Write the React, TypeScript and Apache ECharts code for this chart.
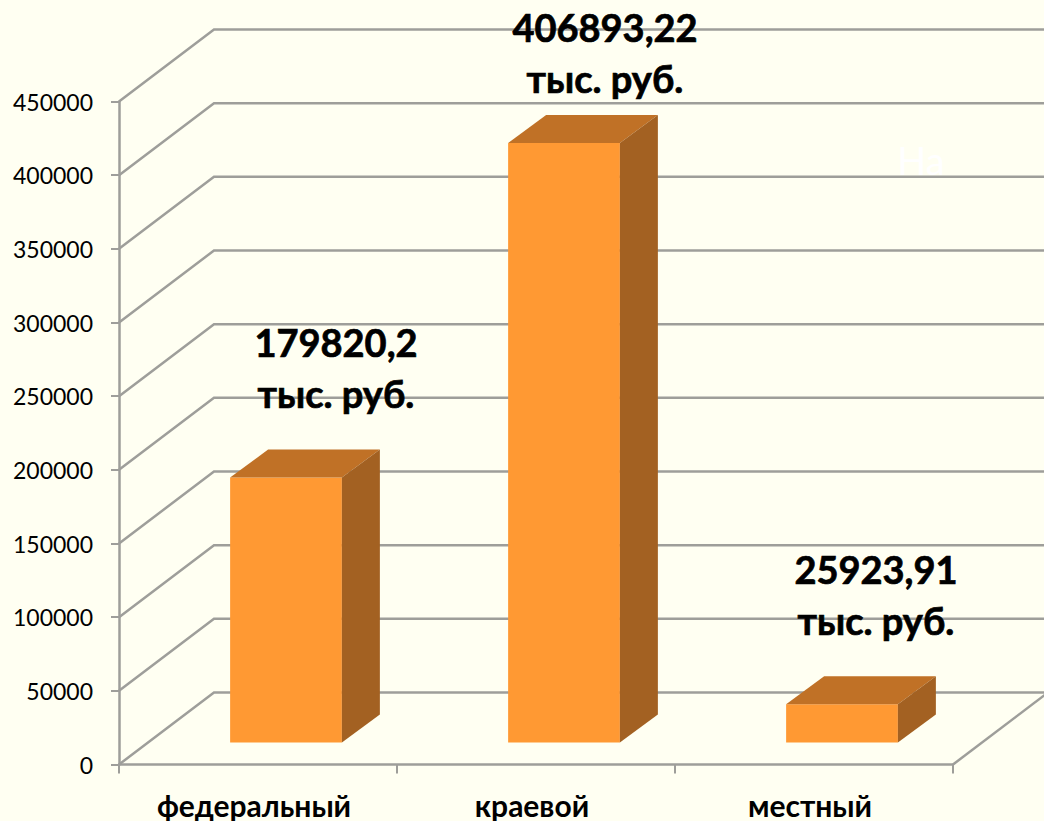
import React, { useEffect, useRef } from "react";
import * as echarts from "echarts";

const categories = ["федеральный", "краевой", "местный"];
const values = [179820.2, 406893.22, 25923.91];
const labelLines = ["179820,2\nтыс. руб.", "406893,22\nтыс. руб.", "25923,91\nтыс. руб."];
const gridValues = [0, 50000, 100000, 150000, 200000, 250000, 300000, 350000, 400000, 450000];

const FONT = "Lato, 'Open Sans', sans-serif";
const LINE = "#9e9e9a";
const BG = "#fffff2";
const DX = 95, DY = 72;
const BDX = 38, BDY = 28;
const labelNudge = [[78, -132], [69, -113], [62, -132]];

export default function App() {
  const ref = useRef<HTMLDivElement>(null);
  useEffect(() => {
    const chart = echarts.init(ref.current!, undefined, { renderer: "svg" });
    chart.setOption({
      animation: false,
      backgroundColor: BG,
      grid: { left: 119, top: 101.5, width: 834, height: 663, containLabel: false },
      xAxis: {
        type: "category",
        data: categories,
        axisLine: { lineStyle: { color: LINE, width: 2.5 } },
        axisTick: { show: true, length: 9, lineStyle: { color: LINE, width: 2 } },
        axisLabel: { color: "#000", fontFamily: FONT, fontWeight: "bold", fontSize: 30, margin: 25, padding: [0, 8, 0, 0] },
      },
      yAxis: {
        type: "value",
        min: 0,
        max: 450000,
        interval: 50000,
        splitLine: { show: false },
        axisLine: { show: true, lineStyle: { color: LINE, width: 2.5 } },
        axisTick: { show: true, length: 8, lineStyle: { color: LINE, width: 2 } },
        axisLabel: { color: "#000", fontFamily: FONT, fontSize: 23, margin: 26, formatter: (v: number) => String(v) },
      },
      graphic: [
        { type: "text", x: 921, y: 160, style: { text: "На", fill: "#ffffff", font: `38px ${FONT}`, align: "center", verticalAlign: "middle" }, z: 1 },
      ],
      series: [
        {
          type: "custom",
          z: 1,
          silent: true,
          data: gridValues.map((v) => [0, v]),
          renderItem: (params: any, api: any) => {
            const v = api.value(1);
            const y = api.coord([0, v])[1];
            const left = params.coordSys.x;
            const right = left + params.coordSys.width;
            const shape = { points: [[left, y], [left + DX, y - DY], [right + DX, y - DY]] };
            const style = { stroke: LINE, lineWidth: 2.5, fill: "none" };
            const children: any[] = [{ type: "polyline", shape, style }];
            if (v === 0) {
              children.push({ type: "line", shape: { x1: right, y1: y, x2: right + DX, y2: y - DY }, style });
            }
            return { type: "group", children };
          },
        },
        {
          type: "custom",
          z: 2,
          silent: true,
          data: values.map((v, i) => [i, v]),
          renderItem: (params: any, api: any) => {
            const i = api.value(0);
            const top = api.coord([i, api.value(1)]);
            const base = api.coord([i, 0]);
            const w = api.size([1, 0])[0] * 0.402;
            const sx = 28, sy = 22;
            const x0 = top[0] + sx - w / 2, x1 = x0 + w;
            const yt = top[1] - sy, yb = base[1] - sy;
            return {
              type: "group",
              children: [
                { type: "rect", shape: { x: x0, y: yt, width: w, height: yb - yt }, style: { fill: "#ff9933" } },
                { type: "polygon", shape: { points: [[x0, yt], [x0 + BDX, yt - BDY], [x1 + BDX, yt - BDY], [x1, yt]] }, style: { fill: "#c07126" } },
                { type: "polygon", shape: { points: [[x1, yt], [x1 + BDX, yt - BDY], [x1 + BDX, yb - BDY], [x1, yb]] }, style: { fill: "#a36122" } },
              ],
            };
          },
        },
        {
          type: "custom",
          z: 3,
          silent: true,
          data: values.map((v, i) => [i, v]),
          renderItem: (params: any, api: any) => {
            const i = api.value(0);
            const p = api.coord([i, api.value(1)]);
            const n = labelNudge[i];
            return {
              type: "text",
              x: p[0] + n[0],
              y: p[1] + n[1],
              style: {
                text: labelLines[i],
                fill: "#000",
                stroke: "#000",
                lineWidth: 0.7,
                fontFamily: FONT,
                fontWeight: "bold",
                fontSize: 38,
                lineHeight: 51,
                align: "center",
                verticalAlign: "middle",
              },
            };
          },
        },
      ],
    });
    return () => chart.dispose();
  }, []);
  return <div ref={ref} style={{ position: "absolute", left: 0, top: 0, width: 1044, height: 821 }} />;
}
